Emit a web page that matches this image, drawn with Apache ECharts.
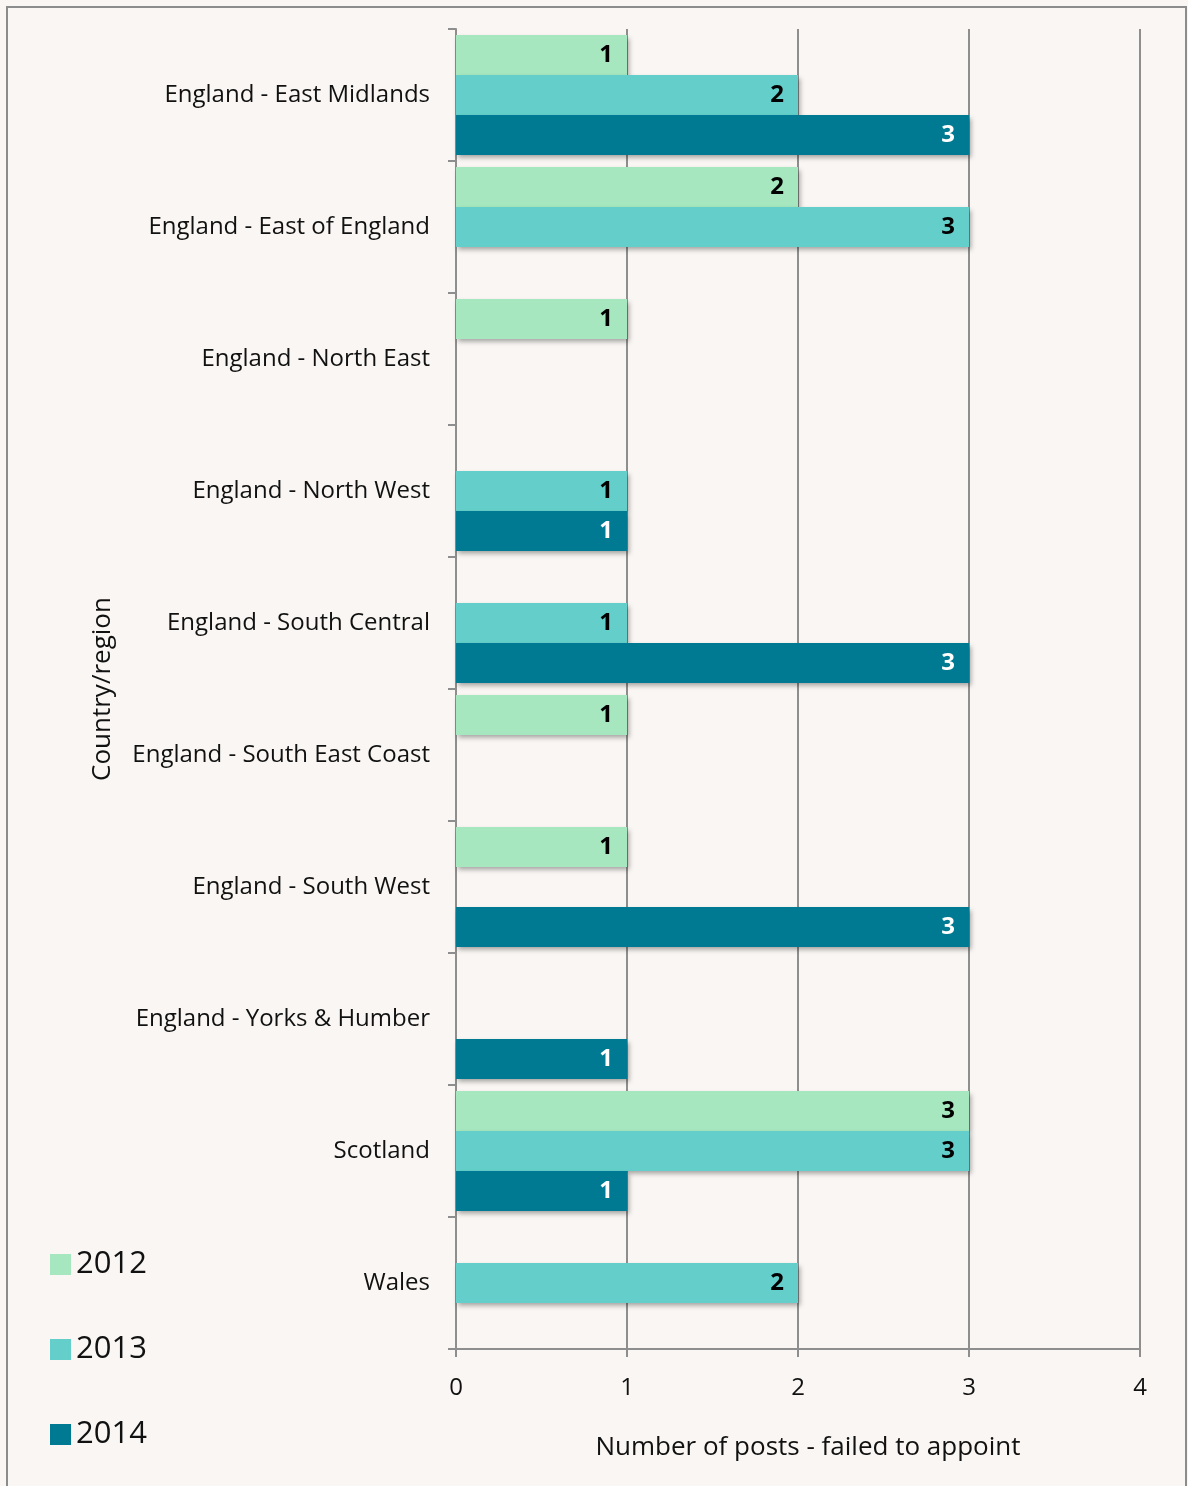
<!DOCTYPE html>
<html>
<head>
<meta charset="utf-8">
<style>
  html, body { margin: 0; padding: 0; background: #f9f6f3; }
  #chart { width: 1188px; height: 1486px; }
</style>
<script src="https://cdn.jsdelivr.net/npm/echarts@6/dist/echarts.min.js"></script>
</head>
<body>
<div id="chart"></div>
<script>
// Regions, top to bottom
const regions = [
  'England - East Midlands',
  'England - East of England',
  'England - North East',
  'England - North West',
  'England - South Central',
  'England - South East Coast',
  'England - South West',
  'England - Yorks & Humber',
  'Scotland',
  'Wales'
];

// Number of posts where the service failed to appoint, per year (null = none)
const posts2012 = [1, 2, 1, null, null, 1, 1, null, 3, null];
const posts2013 = [2, 3, null, 1, 1, null, null, null, 3, 2];
const posts2014 = [3, null, null, 1, 3, null, 3, 1, 1, null];

const xTicks = { min: 0, max: 4, interval: 1 };

const FONT = '"Open Sans", "Noto Sans", sans-serif';
const GRID_COLOR = '#8e8e8e';

const chart = echarts.init(document.getElementById('chart'), null, { renderer: 'canvas' });

function barSeries(name, data, color, labelColor) {
  return {
    name: name,
    type: 'bar',
    data: data,
    barGap: '0%',
    barCategoryGap: '9%',
    itemStyle: {
      color: color,
      shadowColor: 'rgba(0,0,0,0.35)',
      shadowBlur: 5,
      shadowOffsetX: 2,
      shadowOffsetY: 3
    },
    label: {
      show: true,
      position: 'insideRight',
      distance: 14,
      color: labelColor,
      fontFamily: FONT,
      fontWeight: 'bold',
      fontSize: 24
    }
  };
}

chart.setOption({
  backgroundColor: '#f9f6f3',
  animation: false,
  graphic: [{
    type: 'rect',
    shape: { x: 7, y: 7, width: 1179, height: 1490 },
    style: { fill: 'none', stroke: '#8c8c8c', lineWidth: 2 },
    z: -1
  }],
  grid: { left: 456, right: 48, top: 29, bottom: 137, containLabel: false },
  legend: {
    orient: 'vertical',
    left: 45,
    top: 1244,
    itemWidth: 21,
    itemHeight: 21,
    itemGap: 54,
    icon: 'rect',
    textStyle: { fontFamily: FONT, fontSize: 31, color: '#111', padding: [0, 0, 0, 0] },
    data: ['2012', '2013', '2014']
  },
  xAxis: {
    type: 'value',
    min: xTicks.min,
    max: xTicks.max,
    interval: xTicks.interval,
    name: 'Number of posts - failed to appoint',
    nameLocation: 'middle',
    nameGap: 86,
    nameTextStyle: { fontFamily: FONT, fontSize: 26, color: '#111', padding: [0, 0, 0, 20] },
    axisLine: { show: true, lineStyle: { color: GRID_COLOR, width: 2 } },
    axisTick: { show: true, length: 8, lineStyle: { color: GRID_COLOR, width: 2 } },
    axisLabel: { fontFamily: FONT, fontSize: 24, color: '#111', margin: 27 },
    splitLine: { show: true, lineStyle: { color: GRID_COLOR, width: 2 } }
  },
  yAxis: {
    type: 'category',
    inverse: true,
    data: regions,
    name: 'Country/region',
    nameLocation: 'middle',
    nameGap: 340,
    nameRotate: 90,
    nameTextStyle: { fontFamily: FONT, fontSize: 26, color: '#111' },
    axisLine: { show: true, lineStyle: { color: GRID_COLOR, width: 2 } },
    axisTick: { show: true, length: 8, alignWithLabel: false, lineStyle: { color: GRID_COLOR, width: 2 } },
    axisLabel: { fontFamily: FONT, fontSize: 24, color: '#111', margin: 26 },
    splitLine: { show: false }
  },
  series: [
    barSeries('2012', posts2012, '#a6e7bf', '#000'),
    barSeries('2013', posts2013, '#64cfca', '#000'),
    barSeries('2014', posts2014, '#007a92', '#fff')
  ]
});
</script>
</body>
</html>
